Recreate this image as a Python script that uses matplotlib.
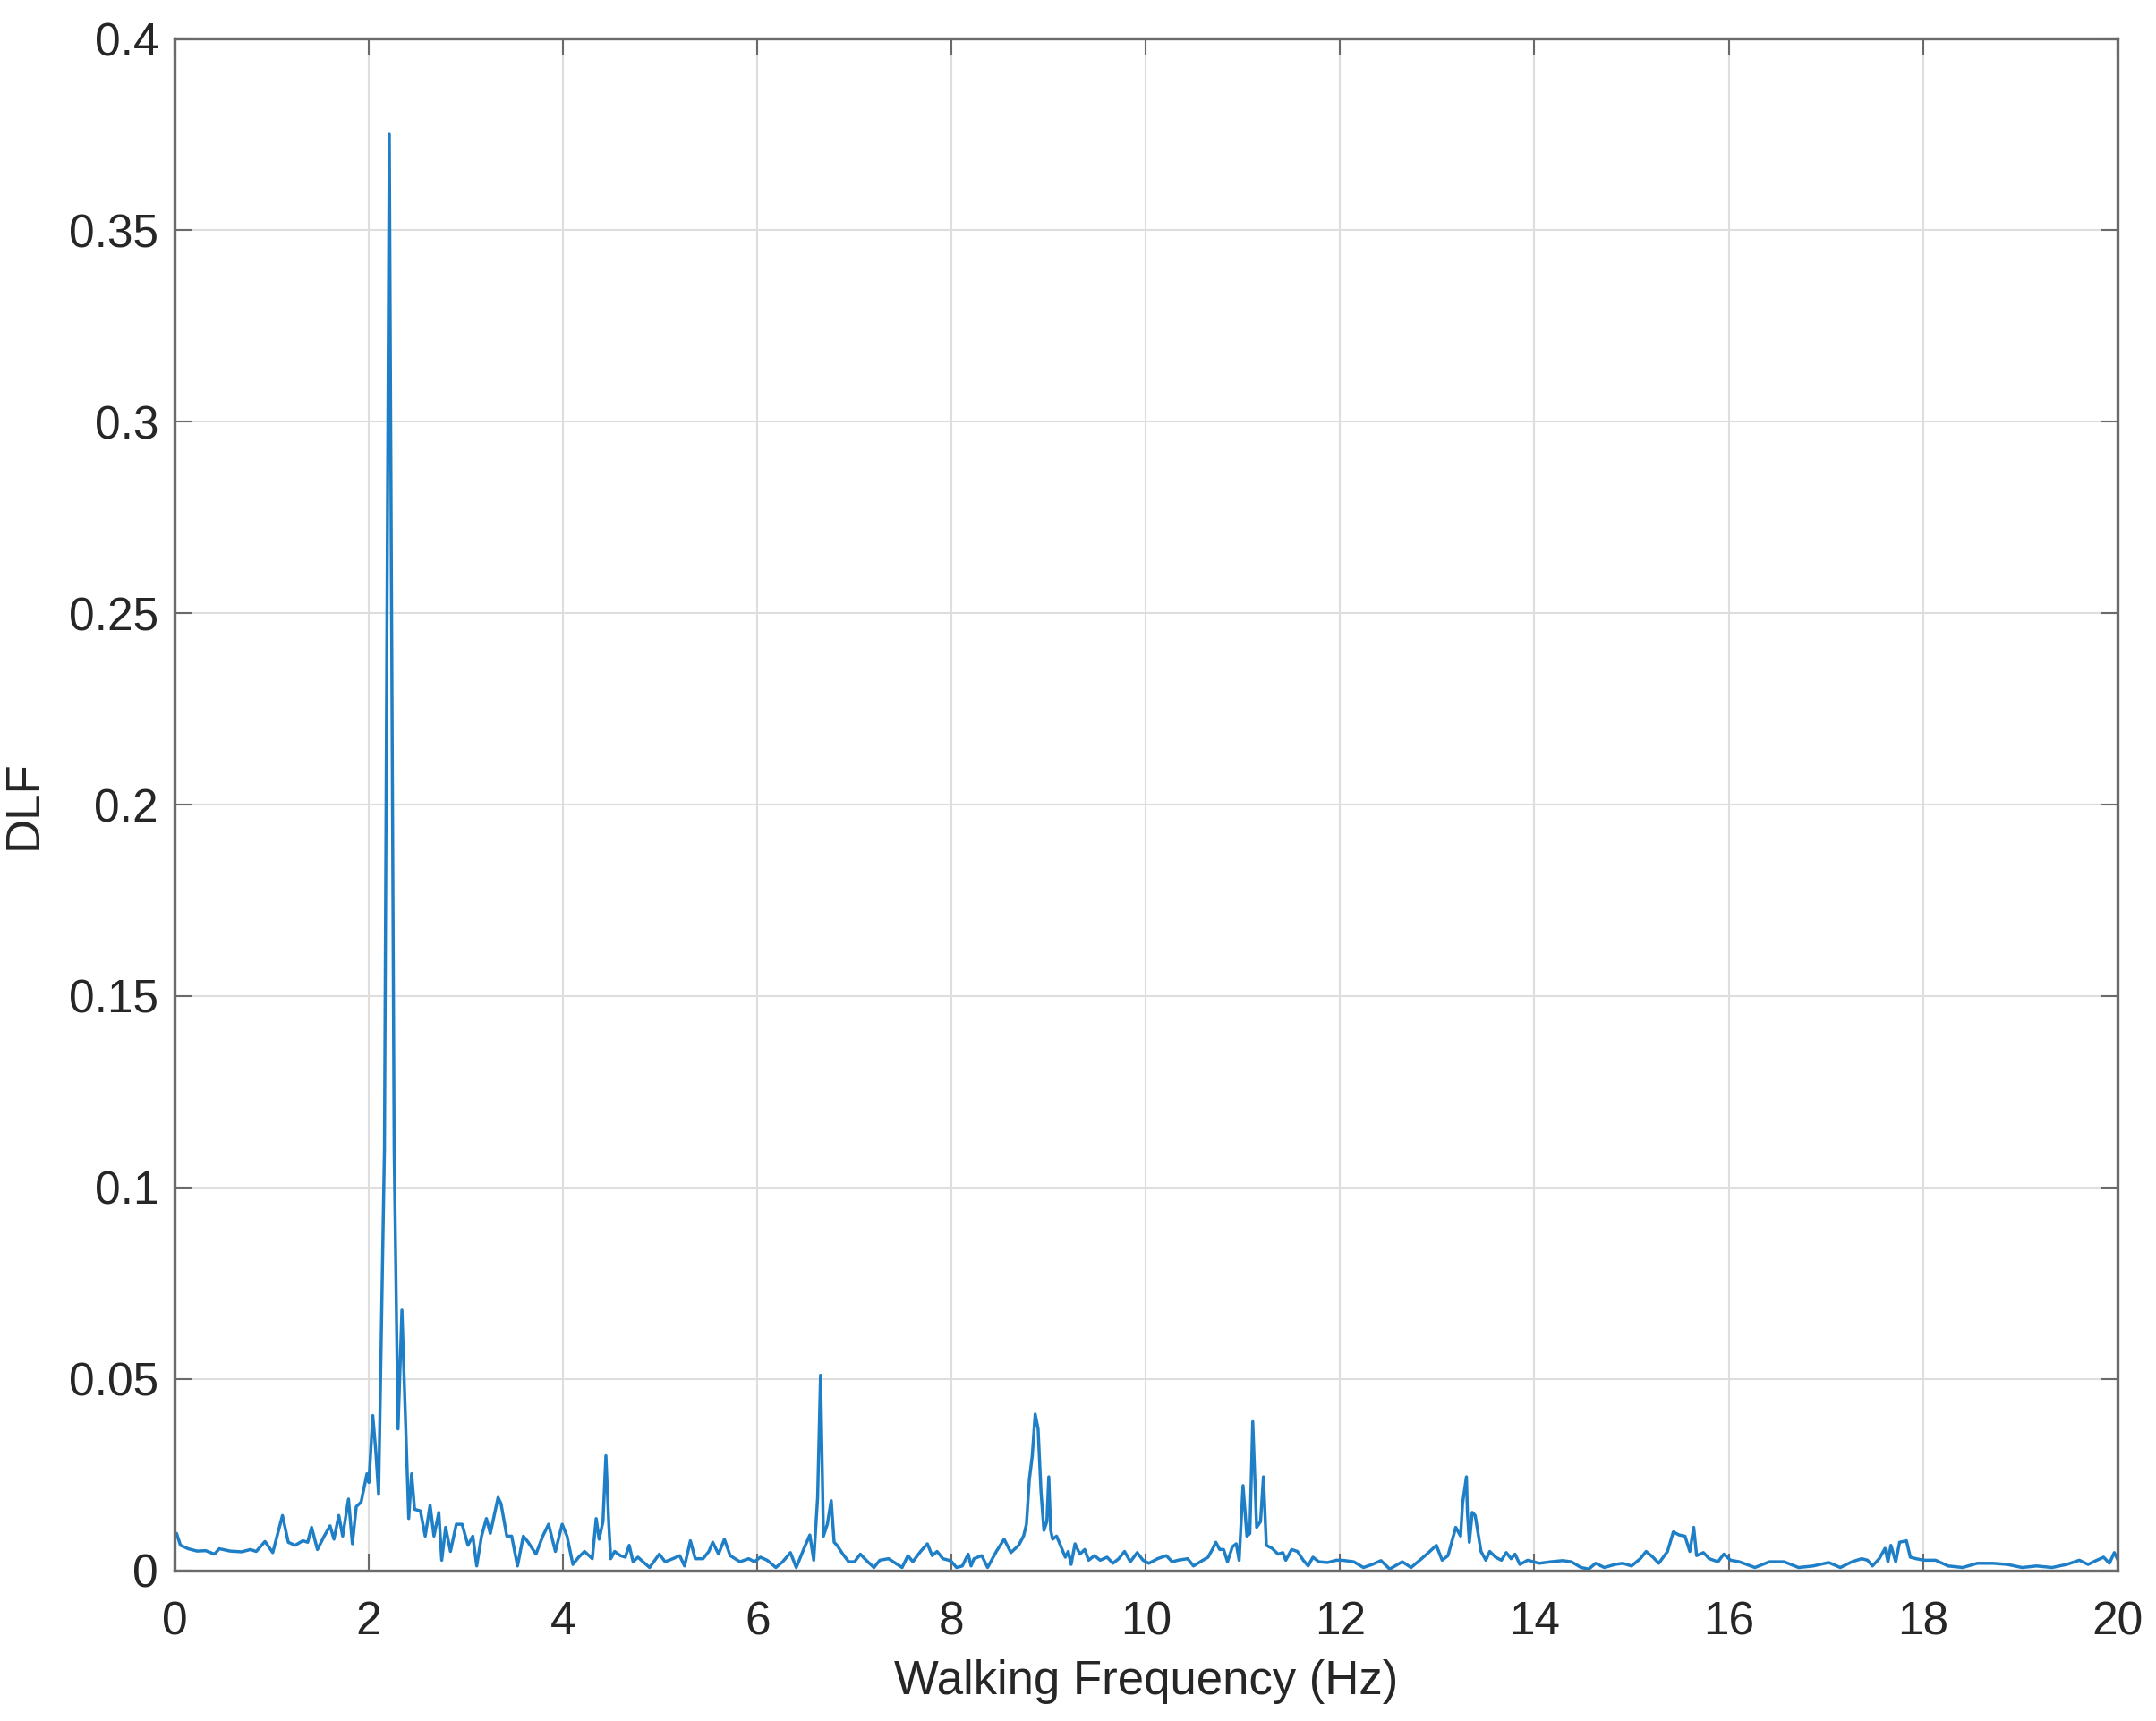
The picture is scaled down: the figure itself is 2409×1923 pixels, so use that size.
import numpy as np
import matplotlib
matplotlib.use("Agg")
import matplotlib.pyplot as plt

# DLF spectrum, split into 4 Hz bands
freq_0_4 = [0.00, 0.02, 0.06, 0.14, 0.23, 0.32, 0.41, 0.46, 0.57, 0.69,
            0.78, 0.84, 0.93, 1.01, 1.11, 1.17, 1.24, 1.32, 1.37, 1.41,
            1.47, 1.54, 1.60, 1.64, 1.69, 1.73, 1.79, 1.83, 1.87, 1.92,
            1.98, 2.00, 2.04, 2.07, 2.10, 2.16, 2.21, 2.26, 2.30, 2.34,
            2.41, 2.44, 2.47, 2.53, 2.58, 2.63, 2.67, 2.72, 2.75, 2.79,
            2.84, 2.90, 2.96, 3.02, 3.07, 3.11, 3.16, 3.21, 3.25, 3.33,
            3.36, 3.42, 3.47, 3.53, 3.59, 3.64, 3.72, 3.79, 3.85, 3.92,
            3.99]
dlf_0_4 = [0.0097, 0.0097, 0.0066, 0.0057, 0.0051, 0.0052, 0.0043, 0.0057, 0.0051, 0.0049,
           0.0055, 0.0050, 0.0076, 0.0047, 0.0144, 0.0074, 0.0066, 0.0078, 0.0074, 0.0113,
           0.0055, 0.0090, 0.0117, 0.0082, 0.0144, 0.0090, 0.0187, 0.0070, 0.0167, 0.0179,
           0.0253, 0.0230, 0.0405, 0.0315, 0.0199, 0.110, 0.375, 0.110, 0.037, 0.068,
           0.0136, 0.0253, 0.0160, 0.0156, 0.0090, 0.0171, 0.0090, 0.0152, 0.0027, 0.0113,
           0.0050, 0.0121, 0.0121, 0.0066, 0.0090, 0.0012, 0.0090, 0.0136, 0.0097, 0.0191,
           0.0175, 0.0090, 0.0090, 0.0012, 0.0090, 0.0074, 0.0043, 0.0090, 0.0121, 0.0050,
           0.0121]

freq_4_8 = [4.04, 4.10, 4.16, 4.22, 4.30, 4.34, 4.37, 4.41, 4.44, 4.47,
            4.49, 4.53, 4.59, 4.64, 4.68, 4.72, 4.77, 4.84, 4.89, 4.99,
            5.05, 5.13, 5.20, 5.25, 5.31, 5.36, 5.44, 5.50, 5.54, 5.60,
            5.66, 5.72, 5.82, 5.91, 5.97, 6.03, 6.10, 6.19, 6.26, 6.34,
            6.40, 6.48, 6.54, 6.58, 6.62, 6.65, 6.68, 6.72, 6.76, 6.79,
            6.82, 6.88, 6.94, 7.00, 7.06, 7.12, 7.20, 7.26, 7.35, 7.49,
            7.55, 7.60, 7.68, 7.75, 7.80, 7.85, 7.91, 7.97]
dlf_4_8 = [0.0090, 0.0016, 0.0035, 0.0050, 0.0031, 0.0136, 0.0082, 0.0128, 0.0300, 0.0121,
           0.0031, 0.0050, 0.0039, 0.0035, 0.0066, 0.0023, 0.0035, 0.0019, 0.0008, 0.0043,
           0.0023, 0.0031, 0.0039, 0.0012, 0.0078, 0.0031, 0.0031, 0.0050, 0.0074, 0.0043,
           0.0082, 0.0039, 0.0023, 0.0031, 0.0023, 0.0035, 0.0027, 0.0008, 0.0023, 0.0047,
           0.0008, 0.0058, 0.0093, 0.0027, 0.0191, 0.0510, 0.0090, 0.0121, 0.0183, 0.0074,
           0.0066, 0.0043, 0.0023, 0.0023, 0.0043, 0.0027, 0.0008, 0.0027, 0.0031, 0.0008,
           0.0039, 0.0023, 0.0050, 0.0070, 0.0039, 0.0050, 0.0031, 0.0027]

freq_8_12 = [8.00, 8.05, 8.11, 8.17, 8.20, 8.23, 8.31, 8.37, 8.46, 8.54,
             8.61, 8.69, 8.74, 8.77, 8.80, 8.83, 8.86, 8.89, 8.92, 8.95,
             8.98, 9.00, 9.02, 9.04, 9.08, 9.12, 9.17, 9.20, 9.23, 9.27,
             9.32, 9.37, 9.41, 9.47, 9.53, 9.60, 9.66, 9.72, 9.78, 9.84,
             9.91, 9.97, 10.03, 10.12, 10.21, 10.27, 10.33, 10.43, 10.49, 10.56,
             10.64, 10.69, 10.72, 10.76, 10.80, 10.84, 10.89, 10.93, 10.96, 11.00,
             11.04, 11.07, 11.10, 11.14, 11.18, 11.21, 11.24, 11.30, 11.36, 11.41,
             11.44, 11.50, 11.56, 11.62, 11.67, 11.72, 11.78, 11.87, 11.96]
dlf_8_12 = [0.0023, 0.0008, 0.0012, 0.0043, 0.0012, 0.0031, 0.0039, 0.0008, 0.0050, 0.0082,
            0.0047, 0.0066, 0.0090, 0.0121, 0.0238, 0.0300, 0.0409, 0.0370, 0.0206, 0.0105,
            0.0128, 0.0245, 0.0105, 0.0082, 0.0090, 0.0066, 0.0035, 0.0050, 0.0016, 0.0070,
            0.0043, 0.0055, 0.0027, 0.0039, 0.0027, 0.0035, 0.0019, 0.0031, 0.0050, 0.0023,
            0.0047, 0.0027, 0.0019, 0.0031, 0.0039, 0.0023, 0.0027, 0.0031, 0.0012, 0.0023,
            0.0035, 0.0058, 0.0074, 0.0055, 0.0055, 0.0023, 0.0062, 0.0070, 0.0027, 0.0222,
            0.0090, 0.0097, 0.0389, 0.0113, 0.0128, 0.0245, 0.0066, 0.0058, 0.0043, 0.0047,
            0.0027, 0.0055, 0.0050, 0.0027, 0.0012, 0.0035, 0.0023, 0.0021, 0.0027]

freq_12_16 = [12.02, 12.14, 12.24, 12.33, 12.42, 12.51, 12.64, 12.73, 12.82, 12.91,
              12.99, 13.05, 13.11, 13.19, 13.24, 13.26, 13.30, 13.31, 13.33, 13.36,
              13.39, 13.45, 13.50, 13.54, 13.60, 13.66, 13.71, 13.76, 13.80, 13.85,
              13.93, 14.05, 14.17, 14.29, 14.38, 14.48, 14.56, 14.63, 14.72, 14.83,
              14.91, 15.00, 15.09, 15.15, 15.22, 15.28, 15.37, 15.43, 15.49, 15.55,
              15.60, 15.64, 15.67, 15.74, 15.80, 15.89, 15.95]
dlf_12_16 = [0.0027, 0.0023, 0.0008, 0.0016, 0.0026, 0.0004, 0.0023, 0.0008, 0.0027, 0.0047,
             0.0066, 0.0027, 0.0039, 0.0113, 0.0090, 0.0175, 0.0245, 0.0152, 0.0074, 0.0152,
             0.0144, 0.0050, 0.0027, 0.0050, 0.0035, 0.0027, 0.0047, 0.0031, 0.0043, 0.0016,
             0.0027, 0.0019, 0.0023, 0.0026, 0.0023, 0.0008, 0.0004, 0.0019, 0.0008, 0.0016,
             0.0019, 0.0012, 0.0031, 0.0050, 0.0035, 0.0019, 0.0050, 0.0101, 0.0093, 0.0090,
             0.0050, 0.0113, 0.0039, 0.0047, 0.0031, 0.0023, 0.0043]

freq_16_20 = [16.02, 16.11, 16.27, 16.42, 16.57, 16.72, 16.87, 17.03, 17.15, 17.27,
              17.37, 17.43, 17.48, 17.55, 17.61, 17.64, 17.67, 17.72, 17.76, 17.83,
              17.87, 17.93, 18.01, 18.13, 18.26, 18.41, 18.56, 18.72, 18.87, 19.02,
              19.17, 19.33, 19.48, 19.61, 19.70, 19.79, 19.86, 19.92, 19.97, 20.00]
dlf_16_20 = [0.0027, 0.0023, 0.0008, 0.0023, 0.0023, 0.0008, 0.0012, 0.0021, 0.0008, 0.0023,
             0.0031, 0.0027, 0.0012, 0.0031, 0.0058, 0.0023, 0.0066, 0.0023, 0.0074, 0.0078,
             0.0035, 0.0031, 0.0027, 0.0027, 0.0012, 0.0008, 0.0019, 0.0019, 0.0016, 0.0008,
             0.0012, 0.0008, 0.0016, 0.0027, 0.0016, 0.0027, 0.0035, 0.0019, 0.0047, 0.0031]

x_ticks = [0, 2, 4, 6, 8, 10, 12, 14, 16, 18, 20]
y_ticks = [0, 0.05, 0.1, 0.15, 0.2, 0.25, 0.3, 0.35, 0.4]
y_ticklabels = ['0', '0.05', '0.1', '0.15', '0.2', '0.25', '0.3', '0.35', '0.4']

freq = np.concatenate([freq_0_4, freq_4_8, freq_8_12, freq_12_16, freq_16_20])
dlf = np.concatenate([dlf_0_4, dlf_4_8, dlf_8_12, dlf_12_16, dlf_16_20])

plt.rcParams['font.family'] = ['Liberation Sans', 'DejaVu Sans']

fig = plt.figure(figsize=(24.09, 19.23), dpi=100)
ax = fig.add_axes([0.081, 0.0874, 0.901, 0.8902])

ax.plot(freq, dlf, color='#1f7fc6', lw=2.5)

ax.set_xlim(0, 20)
ax.set_ylim(0, 0.4)
ax.set_xticks(x_ticks)
ax.set_xticklabels([str(t) for t in x_ticks])
ax.set_yticks(y_ticks)
ax.set_yticklabels(y_ticklabels)

ax.grid(True, color='#dedede', lw=1.5)
ax.set_axisbelow(True)
for s in ax.spines.values():
    s.set_color('#6a6a6a')
    s.set_linewidth(2.4)
ax.tick_params(direction='in', length=14, width=1.5, color='#6a6a6a',
               top=True, right=True, labelsize=37, labelcolor='#262626')
ax.tick_params(axis='x', pad=24)
ax.tick_params(axis='y', pad=13)

ax.set_xlabel('Walking Frequency (Hz)', fontsize=38, color='#262626', labelpad=12)
ax.set_ylabel('DLF', fontsize=38, color='#262626', labelpad=18)

fig.savefig('out.png', dpi=100)
